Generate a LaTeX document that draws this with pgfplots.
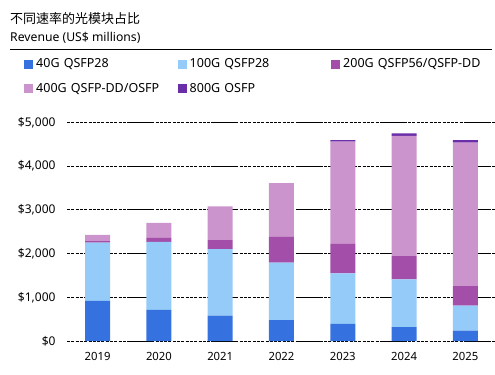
\documentclass[border=0pt]{standalone}
\usepackage{pgfplots}
\pgfplotsset{compat=1.18}
\usepackage{fontspec}
\setmainfont{Noto Sans}
\newfontfamily\cjk{Noto Sans CJK SC}
\definecolor{c40}{HTML}{3572E0}
\definecolor{c100}{HTML}{94CBF9}
\definecolor{c200}{HTML}{A34EA8}
\definecolor{c400}{HTML}{CB94CC}
\definecolor{c800}{HTML}{6A2EA8}
\pgfplotstableread{
x g40 g100 g200 g400 g800
0 915 1335 35 140 0
1 709 1555 92 343 0
2 580 1523 213 763 0
3 480 1310 588 1234 0
4 389 1159 670 2339 38
5 320 1090 533 2744 61
6 236 572 449 3278 60
}\data
\begin{document}
\begin{tikzpicture}
\useasboundingbox (0,0) rectangle (495bp,-375bp);
\node[anchor=base west,inner sep=0pt] at (10bp,-23bp) {\cjk\fontsize{13bp}{15bp}\selectfont 不同速率的光模块占比};
\node[anchor=base west,inner sep=0pt] at (10bp,-41bp) {\fontsize{12.2bp}{14bp}\selectfont Revenue (US\$ millions)};
\draw[line width=1bp] (10bp,-49.3bp) -- (492bp,-49.3bp);
\begin{axis}[
  at={(67bp,-341bp)}, anchor=south west,
  scale only axis, width=429bp, height=218.7bp,
  xmin=-0.5, xmax=6.5, ymin=0, ymax=5000,
  axis line style={draw=none},
  ybar stacked, bar width=25bp,
  xtick={0,...,6}, xticklabels={2019,2020,2021,2022,2023,2024,2025},
  ytick={0,1000,2000,3000,4000,5000},
  yticklabels={\$0,{\$1,000},{\$2,000},{\$3,000},{\$4,000},{\$5,000}},
  tick style={draw=none},
  ymajorgrids,
  major grid style={black, line width=0.8bp, dash pattern=on 27bp off 1.3bp on 3bp off 1.3bp on 3bp off 1.3bp on 3bp off 1.3bp on 3bp off 1.3bp on 3bp off 1.3bp on 3bp off 1.3bp on 3bp off 1.3bp on 3bp off 1.3bp on 3bp off 1.3bp on 3bp off 1.3bp on 3bp off 1.3bp on 3bp off 1.3bp on 3bp off 1.3bp, dash phase=24bp},
  yticklabel style={font=\fontsize{12bp}{14bp}\selectfont, xshift=-8bp},
  xticklabel style={font=\fontsize{11.3bp}{13bp}\selectfont, yshift=-8bp},
  /pgf/number format/assume math mode=true,
  legend columns=3,
  legend style={at={(-0.1002,1.298)}, anchor=north west, draw=none, fill=none, inner sep=0pt,
    font=\fontsize{12.5bp}{14bp}\selectfont, row sep=11bp,
    nodes={text width=140bp, align=left, inner sep=1.5bp}},
  legend image code/.code={\fill[#1] (0bp,-4.5bp) rectangle (9bp,4.5bp); \path (10.5bp,0bp);},
]
\addplot[fill=c40, draw=none] table[x=x,y=g40]{\data};
\addlegendentry{40G QSFP28}
\addplot[fill=c100, draw=none] table[x=x,y=g100]{\data};
\addlegendentry{100G QSFP28}
\addplot[fill=c200, draw=none] table[x=x,y=g200]{\data};
\addlegendentry{200G QSFP56/QSFP-DD}
\addplot[fill=c400, draw=none] table[x=x,y=g400]{\data};
\addlegendentry{400G QSFP-DD/OSFP}
\addplot[fill=c800, draw=none] table[x=x,y=g800]{\data};
\addlegendentry{800G OSFP}
\end{axis}
\end{tikzpicture}
\end{document}
